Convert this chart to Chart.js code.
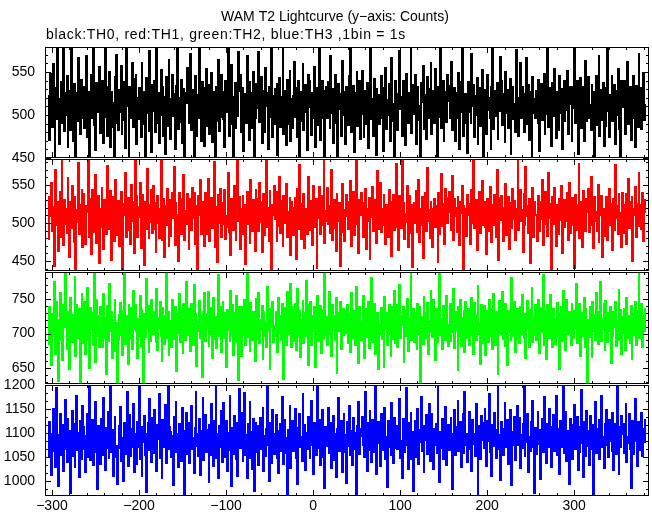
<!DOCTYPE html>
<html>
<head>
<meta charset="utf-8">
<title>WAM T2 Lightcurve</title>
<script src="https://cdn.jsdelivr.net/npm/chart.js@4.4.0/dist/chart.umd.min.js"></script>
<style>
html, body { margin: 0; padding: 0; background: #fff; }
#wrap { position: relative; width: 652px; height: 515px; }
#wrap canvas { position: absolute; left: 0; top: 0; }
</style>
</head>
<body>
<div id="wrap">
  <canvas id="th0" width="652" height="515"></canvas>
  <canvas id="th1" width="652" height="515"></canvas>
  <canvas id="th2" width="652" height="515"></canvas>
  <canvas id="th3" width="652" height="515"></canvas>
</div>
<script>
// first bin time (s), 1bin = 1s
const firstBin = -303;

// counts per bin (rough)
const th0 = [
523,471,548,502,486,559,512,440,531,495,577,507,466,519,538,489,514,592,481,526,
500,545,462,517,528,483,609,505,470,536,514,451,525,493,566,509,478,541,520,497,
533,485,512,568,474,506,528,445,519,547,496,580,488,511,459,537,503,522,556,479,
515,492,539,468,521,601,498,475,532,510,550,463,527,486,514,437,545,505,570,491,
482,529,503,557,477,516,538,494,462,583,511,524,449,533,497,519,560,486,508,542,
548,466,520,495,531,508,474,562,513,490,527,436,543,502,519,480,574,512,457,535,
505,539,480,517,596,491,526,468,510,552,499,533,476,521,455,544,507,487,565,518,
472,513,547,499,524,460,535,511,578,484,520,492,541,467,503,530,448,526,514,555,
537,490,506,571,482,518,529,452,545,508,476,523,496,589,513,470,538,501,531,464,
519,554,487,512,536,478,500,549,469,527,515,442,534,493,520,564,481,509,546,498,
494,527,463,540,516,503,582,475,530,489,558,512,447,521,537,484,511,499,573,528,
546,480,515,532,458,524,507,491,568,516,471,539,500,526,485,550,438,513,495,536,
508,573,492,518,544,467,529,503,480,555,510,525,461,533,497,517,586,474,522,489,
530,495,537,454,512,543,486,521,507,598,478,528,499,465,541,514,490,552,470,519,
485,522,561,498,531,473,516,539,446,508,527,493,560,482,518,535,504,459,547,511,
541,509,477,525,497,556,463,514,532,488,522,579,471,505,540,496,529,450,517,533,
497,538,516,484,569,502,530,468,511,547,491,518,439,536,507,524,476,563,500,528,
518,466,532,509,488,545,520,594,480,513,534,457,526,499,551,487,515,539,472,506,
551,501,473,528,515,490,537,462,524,508,583,495,519,476,542,510,453,531,498,523,
489,520,545,496,458,533,512,555,484,517,500,536,470,527,566,493,513,444,539,504,
526,482,513,574,507,521,476,540,499,529,465,548,516,491,525,506,588,479,518,535,
501,547,466,519,533,494,510,451,537,515,557,483,523,502,472,544,520,497,530,561,
478,528,506,491,553,517,443,534,498,521,580,485,512,540,469,509,527,492,546,516,
534,497,519,562,482,508,531,470,525,496,515,549,460,538,503,585,476,514,491,524,
512,456,538,503,527,489,571,511,535,474,522,500,543,465,518,531,487,508,552,448,
493,530,515,478,546,506,520,496,459,533,591,484,528,510,499,537,471,524,505,567,
539,488,524,511,467,550,502,529,485,518,542,454,516,532,495,513,480,576,507,521,
475,517,560,497,532,514,480,525,507,566,490,535,471,511,527,446,544,502,519,497,
528,505,490,541,458,522,536,494,513,548,477,520,501,587,486,531,509,464,538,515,
499,554,516,473,527,509,483,545,502,530,461,518,539,492,524,506,551,478,513,533,
520,469,533,508,578,491,514,539,455,526,498,543,485,517,532,470,508,563,493,525,
544,496,512,482,536,503,527,450,519,545,488,508,570,476,529,511,494,537,464,516,
487,531,599,505,474,523,510,547,493,517,535,466,528,500,554,483,520,441,539,509,
516,540,478,526,502,561,489,512,532,471,519,497,545,508,463,534,523,486,572,501,
531,484,518,549,494,512
];
const th1 = [
478,534,509,552,490,521,444,515,570,497,528,463,506,541,482,593,512,471,530,499,
519,487,560,503,456,527,494,548,511,475,536,432,517,501,579,485,524,508,545,468,
538,500,473,522,514,589,480,531,496,459,543,507,488,526,563,474,510,535,448,519,
495,547,512,466,530,503,485,575,518,491,523,542,452,509,534,477,499,556,516,484,
529,470,517,541,497,438,525,511,566,482,506,533,489,514,472,550,502,527,460,584,
504,535,481,521,508,553,467,498,537,515,445,528,492,571,510,479,524,501,543,487,
549,492,526,461,513,536,500,480,519,587,476,507,531,455,522,497,545,512,468,530,
483,515,539,506,574,471,527,495,510,450,540,519,486,532,503,563,478,516,499,538,
512,464,532,520,491,546,507,539,473,523,498,428,535,511,557,485,514,529,496,470,
540,503,486,558,517,476,511,533,494,526,580,469,508,521,449,537,500,544,482,516,
497,526,543,479,509,495,565,488,520,458,531,505,491,548,513,476,526,590,502,534,
466,518,504,537,485,523,446,510,541,499,527,472,556,514,489,530,506,463,545,511,
532,489,552,501,528,462,516,538,484,509,592,495,520,477,543,503,435,524,511,548,
505,541,475,517,496,560,487,529,511,469,536,500,522,551,481,515,498,534,458,527,
520,484,514,533,453,506,544,492,576,513,479,525,501,538,467,519,509,485,561,496,
489,529,506,471,548,518,495,531,440,522,507,547,486,513,535,498,583,474,516,503,
546,499,522,485,512,569,478,508,530,494,463,539,517,502,526,444,520,551,488,512,
476,517,537,509,492,528,503,555,470,516,541,484,507,586,497,523,461,530,510,539,
513,481,527,496,545,466,518,502,533,451,525,508,547,489,514,530,474,505,568,492,
531,553,488,519,505,538,497,473,523,510,482,543,499,529,457,516,537,491,511,577,
494,511,465,536,520,493,581,506,527,479,512,501,549,468,535,509,485,524,442,515,
526,500,542,487,510,557,475,518,498,534,454,521,505,539,490,572,503,517,480,529,
508,469,519,531,495,522,513,447,540,485,529,564,496,507,526,472,545,511,500,533,
541,515,490,504,562,478,532,509,520,488,536,501,471,527,513,549,437,523,496,518,
483,537,511,525,472,544,500,516,585,493,508,530,464,519,502,541,487,514,555,497,
518,494,528,459,531,506,489,547,511,475,523,498,537,516,481,570,509,452,533,504,
536,507,476,520,499,551,484,513,534,466,526,510,493,544,505,529,478,519,498,588,
491,524,543,502,517,462,538,496,573,509,522,487,531,448,514,500,546,482,527,511,
510,477,515,535,490,528,505,557,471,519,497,541,511,483,566,507,525,439,536,499,
528,546,499,470,523,512,486,532,504,548,461,516,530,494,520,503,539,478,553,487,
497,518,533,509,441,537,515,491,524,579,480,508,527,469,542,501,517,490,531,515,
544,488,510,561,496,521,467,534,502,515,489,550,474,526,511,536,455,519,505,482,
512,534,478,517,545,498,525,509,464,531,491,576,507,522,485,539,500,513,468,540,
487,523,506,540,472,514,558,493,528,501,536,450,519,510,547,481,525,496,567,508,
523,492,539,476,515,530
];
const th2 = [
684,739,712,655,728,697,774,706,670,745,719,631,701,758,690,723,662,741,709,800,
720,677,733,699,648,752,716,688,727,710,783,667,741,704,693,736,621,718,759,686,
702,745,671,724,766,691,713,650,737,706,729,683,796,714,659,748,697,726,680,739,
729,706,681,757,693,722,642,740,711,688,772,703,731,664,719,699,750,675,715,630,
691,727,744,698,734,669,710,789,685,725,700,656,743,716,694,737,678,761,707,720,
743,703,664,721,697,754,682,735,712,628,728,695,779,706,740,672,718,689,748,715,
700,731,716,687,765,676,722,708,745,696,659,737,711,685,726,803,694,731,667,716,
718,681,749,709,692,738,714,646,728,701,757,688,720,733,671,742,706,690,775,698,
735,696,722,675,743,712,684,770,701,729,653,717,704,747,693,725,637,733,711,759,
689,728,706,760,681,716,737,700,664,751,720,692,726,679,708,785,697,739,674,723,
747,711,693,729,652,734,705,722,688,762,699,741,669,716,730,687,754,703,633,738,
703,668,738,715,698,749,683,712,795,695,727,674,744,709,690,731,714,660,752,692,
725,758,687,719,705,740,662,731,697,715,681,767,703,736,647,721,709,745,688,711,
696,731,713,674,751,701,725,690,743,709,634,737,718,684,760,699,727,712,771,680,
738,689,720,743,676,709,764,695,732,666,719,705,748,686,729,697,776,712,655,741,
710,746,684,726,703,738,651,722,696,755,689,714,740,672,734,706,691,787,700,724,
683,722,760,698,716,667,741,708,726,690,752,641,729,704,718,746,677,713,735,697,
733,701,719,741,687,728,707,673,758,693,715,732,684,768,699,724,657,739,711,690,
717,755,696,664,735,711,695,746,679,722,704,781,688,713,742,670,725,701,729,648,
699,714,737,692,723,650,753,706,730,684,717,741,699,666,738,712,692,762,686,727,
742,681,708,770,694,725,712,739,658,716,733,697,750,675,721,704,788,690,718,736,
688,729,714,676,743,700,739,627,724,710,685,754,703,730,693,744,671,717,702,763,
726,695,749,712,661,735,719,686,727,798,698,721,677,740,707,728,690,755,713,682,
711,743,688,724,702,764,679,731,705,717,646,738,696,749,682,722,710,734,673,745,
694,723,736,683,729,706,752,698,671,744,713,690,727,770,700,715,656,741,709,686,
740,707,669,733,714,688,748,721,695,736,678,757,704,684,731,717,640,725,747,699,
705,760,692,727,681,742,708,654,733,702,726,689,780,711,697,745,673,718,736,690,
722,686,739,700,756,715,693,729,665,720,747,706,681,734,712,767,688,724,698,741,
690,727,713,749,672,737,702,718,785,684,708,731,663,741,719,694,756,705,728,680,
736,702,685,721,744,695,730,649,714,738,689,761,707,725,676,748,711,699,731,717,
683,744,719,694,732,708,771,686,723,701,742,668,729,712,697,752,679,735,704,626,
719,695,738,712,664,746,704,727,690,758,716,685,733,700,774,689,721,707,743,675,
747,713,688,729,703,739,657,720,696,731,709,745,682,718,691,764,706,734,671,724,
701,736,676,717,752,694,725,711,687,740,662,728,715,698,746,684,733,705,791,693,
714,742,680,726,703,735
];
const th3 = [
1048,1124,1076,1013,1098,1151,1062,1109,1030,1193,1071,989,1095,1140,1055,1086,1117,1021,1067,1168,
1091,1040,1131,1059,1104,975,1083,1146,1052,1119,1027,1088,1178,1064,1101,1008,1126,1045,1079,1157,
1112,1066,1019,1094,1139,1050,1087,1203,1043,1081,1127,1033,1102,1058,1165,1073,984,1115,1084,1036,
1129,1078,1054,1172,1093,1024,1110,1068,1144,1046,1085,1212,1061,1106,1011,1097,1135,1050,1074,994,
1069,1114,1155,1041,1092,1080,1000,1121,1057,1100,1186,1032,1085,1137,1052,1108,1072,1160,1018,1099,
1087,1035,1123,1070,1196,1047,1096,1009,1113,1082,1136,1055,978,1098,1120,1063,1170,1084,1039,1131,
1058,1147,1077,1101,1022,1116,1088,1181,1049,1093,1004,1128,1072,1109,1159,1037,1090,1206,1065,1112,
1103,1051,1094,992,1133,1075,1167,1060,1099,1029,1118,1086,1042,1152,1070,1105,962,1092,1141,1056,
1082,1123,1038,1100,1156,1066,1089,1016,1110,1188,1074,1097,1053,1130,1012,1104,1083,1174,1044,1091,
1137,1061,1107,1085,997,1117,1055,1161,1094,1031,1126,1078,1199,1049,1098,1006,1114,1071,1145,1040,
1095,1163,1050,1077,1125,1020,1101,1064,1179,1087,990,1111,1057,1135,1092,1043,1121,1010,1081,1191,
1068,1108,1142,1039,1090,1184,1054,1096,1007,1119,1079,1166,1048,1102,1026,1129,980,1086,1124,1060,
1115,1034,1085,1132,1067,1099,1154,1021,1093,1052,1109,1209,1075,1001,1122,1082,1038,1148,1097,1056,
1088,1138,1045,1104,1017,1080,1118,1063,1175,1095,1035,1127,1059,1090,968,1106,1073,1158,1028,1099,
1126,1062,1097,1150,1048,1112,993,1084,1139,1071,1091,1042,1183,1077,1116,1024,1100,1066,1133,1083,
1046,1094,1166,1076,1014,1121,1089,1055,1103,1197,1068,1127,1033,1086,1149,1051,1098,985,1113,1074,
1107,1152,1059,1092,1120,1027,1084,1136,1044,1097,1009,1110,1081,1173,1063,1094,1125,1019,1070,1142,
1061,1096,996,1122,1073,1157,1052,1105,1087,1034,1131,1066,1100,958,1117,1082,1165,1056,1093,1109,
1134,1075,1111,1050,1185,1090,1022,1120,1065,1147,1085,1039,1128,1097,1060,1204,1015,1101,1079,1123,
1083,1031,1140,1094,1064,1109,1153,1045,1091,987,1126,1072,1104,1053,1162,1087,1037,1132,1068,1100,
1116,1066,1092,1171,1049,1084,1006,1129,1096,1061,1112,1194,1076,1025,1121,1089,1144,1047,1103,979,
1072,1125,1050,1098,1150,1036,1106,1081,1176,1063,1093,1016,1115,1085,1137,1057,1096,1160,1041,1088,
1140,1090,1026,1109,1075,1119,1058,1211,1086,999,1102,1068,1130,1047,1107,1080,1154,1033,1094,1117,
1064,1103,1134,1071,983,1097,1148,1054,1113,1084,1169,1062,1092,1124,1029,1083,1139,1057,1186,1076,
1099,1040,1087,1143,1066,1108,1020,1127,1078,1098,1052,1161,1073,965,1114,1091,1045,1136,1085,1120,
1069,1153,1094,1032,1125,1083,1181,1060,1100,1011,1116,1074,1141,1089,1048,1106,1201,1067,1095,1003,
1122,1079,1055,1108,1164,1071,1092,1128,1035,1087,1147,1063,991,1102,1076,1133,1043,1097,1156,1073,
1088,1131,1028,1096,1068,1118,1195,1051,1105,1081,1140,1018,1092,1062,1124,1089,1167,1070,976,1110,
1057,1098,1145,1077,1107,1004,1090,1130,1061,1174,1085,1102,1038,1119,1072,1150,1095,1030,1115,1082,
1138,1063,1093,1177,1054,1110,1084,1014,1125,1071,1097,1207,1059,1089,1143,1042,1104,1076,995,1129,
1091,1119,1047,1086,1158,1067,1101,1133,1023,1096,1060,1112,1189,1079,1009,1124,1088,1053,1146,1074,
1105,1034,1136,1094,1065,1117,973,1085,1165,1058,1108,1080,1129,1046,1097,1178,1070,1091,1027,1121,
1076,1149,1088,1050,1127,1083,1106,1061,1142,1024,1093,1119,1056,1198,1087,1012,1113,1072,1135,1099,
1118,1059,1101,1163,1040,1092,1079,1139,1066,986,1098,1126,1057,1110,1170,1084,1031,1123,1090,1064,
1094,1141,1052,1108,1081,1127
];

// tick labels
const xTicks = [-300, -200, -100, 0, 100, 200, 300];
const th0Ticks = [450, 500, 550];
const th1Ticks = [450, 500, 550];
const th2Ticks = [650, 700, 750];
const th3Ticks = [1000, 1050, 1100, 1150, 1200];

const titleText = 'WAM T2 Lightcurve (y\u2212axis: Counts)';
const subText = 'black:TH0, red:TH1, green:TH2, blue:TH3 ,1bin = 1s';

const FONT = '"Liberation Sans", Arial, Helvetica, sans-serif';

// panel layout (pixels)
const panels = [
  { id: 'th0', data: th0, ticks: th0Ticks, color: '#000000', min: 450, max: 579,  minor: 10,   top: 47,  bottom: 158 },
  { id: 'th1', data: th1, ticks: th1Ticks, color: '#ff0000', min: 437, max: 584,  minor: 10,   top: 159, bottom: 271 },
  { id: 'th2', data: th2, ticks: th2Ticks, color: '#00ff00', min: 627, max: 789,  minor: 10,   top: 272, bottom: 384 },
  { id: 'th3', data: th3, ticks: th3Ticks, color: '#0000ff', min: 969, max: 1200, minor: 50/3, top: 385, bottom: 496 }
];

// snap the histogram steps onto whole pixels so the lines stay crisp
// (bins are narrower than a pixel, antialiasing otherwise gives a moire)
const snapToPixels = {
  id: 'snapToPixels',
  beforeDatasetsDraw(chart) {
    chart.getDatasetMeta(0).data.forEach(pt => {
      pt.x = Math.round(pt.x);
      pt.y = Math.round(pt.y);
    });
  }
};

// IDL style frame with inward major/minor ticks on all four sides
const frameTicks = {
  id: 'frameTicks',
  afterDatasetsDraw(chart, args, opts) {
    const ctx = chart.ctx;
    const a = chart.chartArea;
    const xs = chart.scales.x;
    const ys = chart.scales.y;
    ctx.save();
    ctx.strokeStyle = '#000';
    ctx.lineWidth = 1;
    ctx.beginPath();
    for (let v = Math.ceil(xs.min / 20) * 20; v <= xs.max; v += 20) {
      const px = Math.round(xs.getPixelForValue(v)) + 0.5;
      const len = v % 100 === 0 ? 6 : 3;
      ctx.moveTo(px, a.bottom); ctx.lineTo(px, a.bottom - len);
      ctx.moveTo(px, a.top); ctx.lineTo(px, a.top + len);
    }
    const step = opts.minor;
    for (let k = Math.ceil(ys.min / step - 1e-6); k * step <= ys.max + 1e-6; k++) {
      const v = k * step;
      const py = Math.round(ys.getPixelForValue(v)) + 0.5;
      const major = Math.abs(v - Math.round(v / 50) * 50) < 0.01;
      const len = major ? 6 : 3;
      ctx.moveTo(a.left, py); ctx.lineTo(a.left + len, py);
      ctx.moveTo(a.right, py); ctx.lineTo(a.right - len, py);
    }
    ctx.stroke();
    ctx.strokeRect(a.left + 0.5, a.top + 0.5, a.right - a.left - 1, a.bottom - a.top - 1);
    ctx.restore();
  }
};

// title lines above the first panel
const titles = {
  id: 'titles',
  afterDraw(chart, args, opts) {
    if (!opts.show) return;
    const ctx = chart.ctx;
    ctx.save();
    ctx.fillStyle = '#000';
    ctx.font = '14px ' + FONT;
    ctx.textBaseline = 'middle';
    ctx.textAlign = 'center';
    ctx.fillText(titleText, 335, 17);
    ctx.textAlign = 'left';
    ctx.letterSpacing = '0.7px';
    ctx.fillText(subText, 46, 35);
    ctx.restore();
  }
};

panels.forEach((p, n) => {
  const last = n === panels.length - 1;
  const points = p.data.map((v, i) => ({ x: firstBin + i, y: v }));
  new Chart(document.getElementById(p.id), {
    type: 'line',
    data: {
      datasets: [{
        data: points,
        borderColor: p.color,
        borderWidth: 2,
        pointRadius: 0,
        stepped: 'after',
        fill: false,
        clip: 0
      }]
    },
    options: {
      responsive: false,
      animation: false,
      devicePixelRatio: 1,
      events: [],
      layout: {
        padding: { left: 0, right: 3, top: p.top, bottom: last ? 0 : 515 - p.bottom }
      },
      plugins: {
        legend: { display: false },
        tooltip: { enabled: false },
        frameTicks: { minor: p.minor },
        titles: { show: n === 0 }
      },
      scales: {
        x: {
          type: 'linear',
          min: -308,
          max: 386,
          display: last,
          grid: { display: false, drawTicks: false },
          border: { display: false },
          afterBuildTicks: s => { s.ticks = xTicks.map(v => ({ value: v })); },
          afterFit: s => { s.height = last ? 19 : 0; },
          ticks: {
            color: '#000',
            font: { family: FONT, size: 14 },
            padding: 2,
            maxRotation: 0,
            autoSkip: false,
            callback: v => String(v).replace('-', '\u2212')
          }
        },
        y: {
          min: p.min,
          max: p.max,
          grid: { display: false, drawTicks: false },
          border: { display: false },
          afterBuildTicks: s => { s.ticks = p.ticks.map(v => ({ value: v })); },
          afterFit: s => { s.width = 45; },
          ticks: {
            color: '#000',
            font: { family: FONT, size: 14 },
            padding: 10,
            callback: v => String(v)
          }
        }
      }
    },
    plugins: [snapToPixels, frameTicks, titles]
  });
});
</script>
</body>
</html>
